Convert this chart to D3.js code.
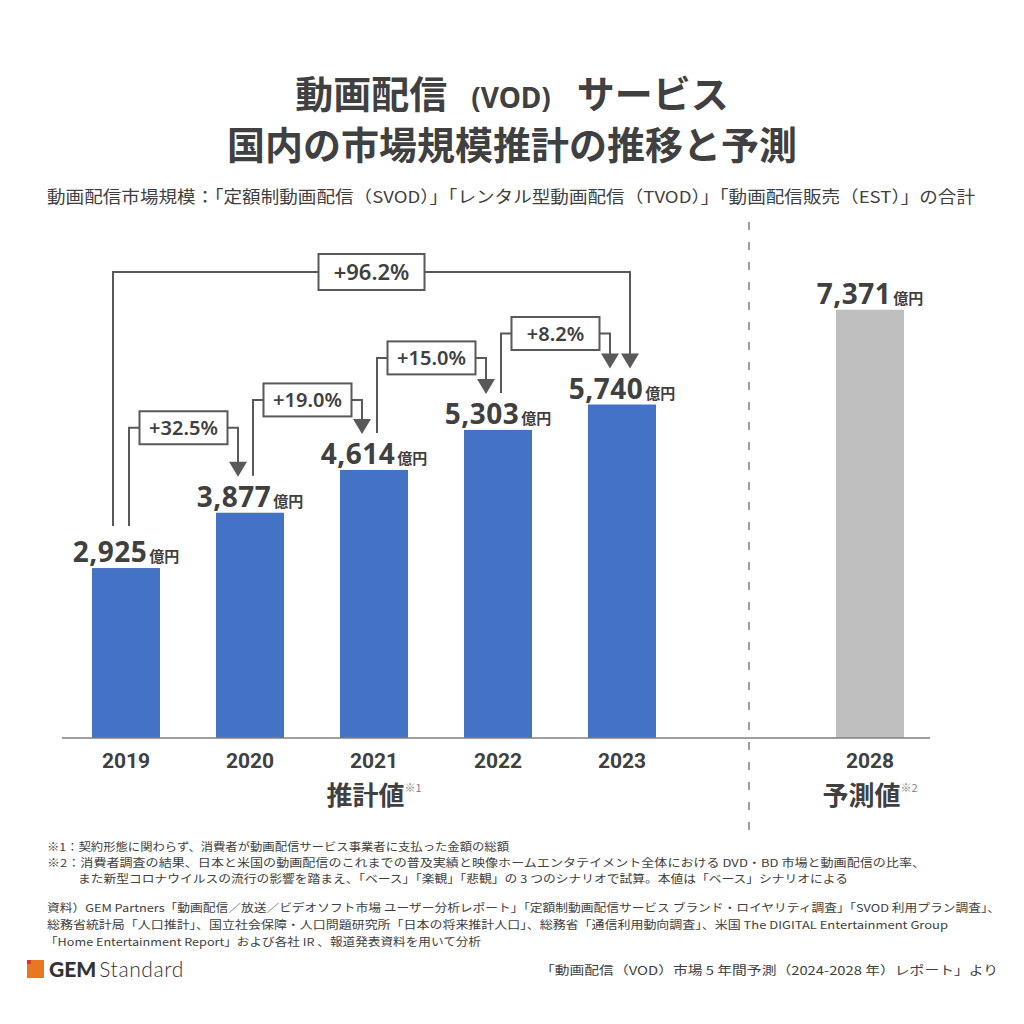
<!DOCTYPE html>
<html><head><meta charset="utf-8">
<script src="https://cdn.jsdelivr.net/npm/d3@7"></script>
<style>
html,body{margin:0;padding:0;background:#fff;}
svg{display:block;}
</style></head>
<body>
<svg id="c" width="1024" height="1024"></svg>
<script>
// ---- data ----
const categories = ["2019","2020","2021","2022","2023","gap","2028"];
const years = ["2019","2020","2021","2022","2023","2028"];
const values = [2925, 3877, 4614, 5303, 5740, 7371];
const isForecast = [false,false,false,false,false,true];
const growthLabels = ["+32.5%","+19.0%","+15.0%","+8.2%","+96.2%"];
const growthFrom = ["2019","2020","2021","2022","2019"];
const growthTo = ["2020","2021","2022","2023","2023"];
const titleParts = ["動画配信","(VOD)","サービス"];
const titleLine2 = "国内の市場規模推計の推移と予測";
const subtitle = "動画配信市場規模：「定額制動画配信（SVOD）」「レンタル型動画配信（TVOD）」「動画配信販売（EST）」の合計";
const groupLabels = [{text:"推計値", note:"※1", cat:"2021"},{text:"予測値", note:"※2", cat:"2028"}];
const unit = "億円";
const footnotes = [
 "※1：契約形態に関わらず、消費者が動画配信サービス事業者に支払った金額の総額",
 "※2：消費者調査の結果、日本と米国の動画配信のこれまでの普及実績と映像ホームエンタテイメント全体における DVD・BD 市場と動画配信の比率、",
 "また新型コロナウイルスの流行の影響を踏まえ、「ベース」「楽観」「悲観」の 3 つのシナリオで試算。本値は「ベース」シナリオによる"
];
const sources = [
 "資料）GEM Partners「動画配信／放送／ビデオソフト市場 ユーザー分析レポート」「定額制動画配信サービス ブランド・ロイヤリティ調査」「SVOD 利用プラン調査」、",
 "総務省統計局「人口推計」、国立社会保障・人口問題研究所「日本の将来推計人口」、総務省「通信利用動向調査」、米国 The DIGITAL Entertainment Group",
 "「Home Entertainment Report」および各社 IR 、報道発表資料を用いて分析"
];
const reportRef = "「動画配信（VOD）市場 5 年間予測（2024-2028 年）レポート」より";

// ---- layout ----
const TEXT = "#404040";
const JP = "'Noto Sans CJK JP','Noto Sans',sans-serif";
const NUM = "'Noto Sans','Open Sans',sans-serif";
const svg = d3.select("#c");

const x = d3.scaleBand().domain(categories).range([64, 932]).paddingInner(56/124).paddingOuter(28/124);
const y = d3.scaleLinear().domain([0, 8000]).range([738, 738 - 0.0581*8000]);
const bw = x.bandwidth();
const cx = c => x(c) + bw/2;
const valOf = c => values[years.indexOf(c)];

// title
svg.append("text").attr("x",512).attr("y",108).attr("text-anchor","middle")
  .attr("font-family",JP).attr("font-weight",700).attr("font-size",38).attr("fill",TEXT)
  .call(t=>{
    t.append("tspan").text(titleParts[0]);
    t.append("tspan").attr("font-size",28).attr("font-family",NUM).attr("dx",24).text(titleParts[1]);
    t.append("tspan").attr("dx",26).text(titleParts[2]);
  });
svg.append("text").attr("x",512).attr("y",159).attr("text-anchor","middle")
  .attr("font-family",JP).attr("font-weight",700).attr("font-size",38).attr("fill",TEXT)
  .text(titleLine2);
svg.append("text").attr("x",47).attr("y",203)
  .attr("font-family",JP).attr("font-size",16.5).attr("fill",TEXT)
  .attr("textLength",928).attr("lengthAdjust","spacingAndGlyphs").text(subtitle);

// dashed separator
svg.append("line").attr("x1",cx("gap")+3).attr("x2",cx("gap")+3).attr("y1",222).attr("y2",830)
  .attr("stroke","#7f7f7f").attr("stroke-width",1.5).attr("stroke-dasharray","8,12");

// bars
svg.append("g").selectAll("rect").data(years).join("rect")
  .attr("x",d=>x(d)).attr("width",bw)
  .attr("y",(d,i)=>y(values[i])).attr("height",(d,i)=>y(0)-y(values[i]))
  .attr("fill",(d,i)=>isForecast[i]?"#BFBFBF":"#4472C4");

// axis
const axis = d3.axisBottom(x).tickValues(years).tickSize(0).tickPadding(10);
const ag = svg.append("g").attr("transform",`translate(0,${y(0)})`).call(axis);
ag.select(".domain").attr("stroke","#7f7f7f").attr("stroke-width",1.5).attr("d","M62,0H930");
ag.selectAll(".tick text").attr("font-family","Roboto,sans-serif").attr("font-weight",700)
  .attr("font-size",21).attr("fill",TEXT).attr("dy","0.95em");

// group labels
groupLabels.forEach(g=>{
  const t = svg.append("text").attr("x",cx(g.cat)).attr("y",805).attr("text-anchor","middle")
    .attr("font-family",JP).attr("font-weight",700).attr("font-size",26).attr("fill",TEXT);
  t.append("tspan").text(g.text);
  t.append("tspan").attr("font-size",11).attr("font-weight",400).attr("fill","#808080").attr("dy",-13).text(g.note);
});

// value labels
const fmt = d3.format(",");
svg.append("g").selectAll("text").data(years).join("text")
  .attr("x",d=>cx(d)).attr("y",(d,i)=>y(values[i])-6).attr("text-anchor","middle")
  .attr("fill",TEXT).attr("font-weight",700)
  .each(function(d,i){
    const t=d3.select(this);
    t.append("tspan").attr("font-family",NUM).attr("font-size",28).attr("letter-spacing",0.5).text(fmt(values[i]));
    t.append("tspan").attr("font-family",JP).attr("font-size",15).attr("dx",2).text(unit);
  });

// growth annotations
const labelTop = c => y(valOf(c)) - 6 - 21;
const LINE = "#595959";
const ann = svg.append("g");
const rises = [49,34,36,35];
growthLabels.forEach((lab,i)=>{
  const f = growthFrom[i], to = growthTo[i];
  const big = i===4;
  const lx = big ? cx(f)-13 : cx(f)+3;
  const ax = big ? cx(to)+8 : cx(to)-12;
  const tip = labelTop(to) - 9;
  const ly = big ? 272 : tip - rises[i];
  const startY = labelTop(f) - (f==="2019"?15:10);
  const bwid = big?106:88, bh = big?36:33;
  const bx = (lx+ax)/2;
  ann.append("path")
    .attr("d",`M${lx},${startY}V${ly}H${ax}V${tip-14}`)
    .attr("fill","none").attr("stroke",LINE).attr("stroke-width",2);
  ann.append("path").attr("d",`M${ax-9},${tip-15}L${ax+9},${tip-15}L${ax},${tip}Z`).attr("fill",LINE);
  ann.append("rect").attr("x",bx-bwid/2).attr("y",ly-bh/2).attr("width",bwid).attr("height",bh)
    .attr("fill","#fff").attr("stroke",LINE).attr("stroke-width",2);
  ann.append("text").attr("x",bx).attr("y",ly).attr("dy","0.36em").attr("text-anchor","middle")
    .attr("font-family",NUM).attr("font-weight",600).attr("font-size",big?22:20).attr("fill",TEXT).text(lab);
});

// footnotes
const fnX = [47,47,78], fnY=[851,867,883], fnW=[462,878,770];
footnotes.forEach((t,i)=>svg.append("text").attr("x",fnX[i]).attr("y",fnY[i])
  .attr("font-family",JP).attr("font-size",11).attr("fill",TEXT)
  .attr("textLength",fnW[i]).attr("lengthAdjust","spacingAndGlyphs").text(t));
const srY=[912,929,946], srW=[953,901,436];
sources.forEach((t,i)=>svg.append("text").attr("x",i===2?45:47).attr("y",srY[i])
  .attr("font-family",JP).attr("font-size",11).attr("fill",TEXT)
  .attr("textLength",srW[i]).attr("lengthAdjust","spacingAndGlyphs").text(t));
svg.append("text").attr("x",998).attr("y",975).attr("text-anchor","end")
  .attr("font-family",JP).attr("font-size",12).attr("fill",TEXT)
  .attr("textLength",458).attr("lengthAdjust","spacingAndGlyphs").text(reportRef);

// logo
svg.append("rect").attr("x",27).attr("y",960).attr("width",17).attr("height",18).attr("fill","#E87722");
svg.append("rect").attr("x",27).attr("y",960).attr("width",4).attr("height",4).attr("fill","#D9342B");
const lg = svg.append("text").attr("x",49).attr("y",977).attr("font-family","Lato,'Noto Sans',sans-serif")
  .attr("font-size",21).attr("fill","#333");
lg.append("tspan").attr("font-weight",900).text("GEM");
lg.append("tspan").attr("font-weight",300).attr("dx",3).attr("letter-spacing",0.6).text("Standard");
</script>
</body></html>
